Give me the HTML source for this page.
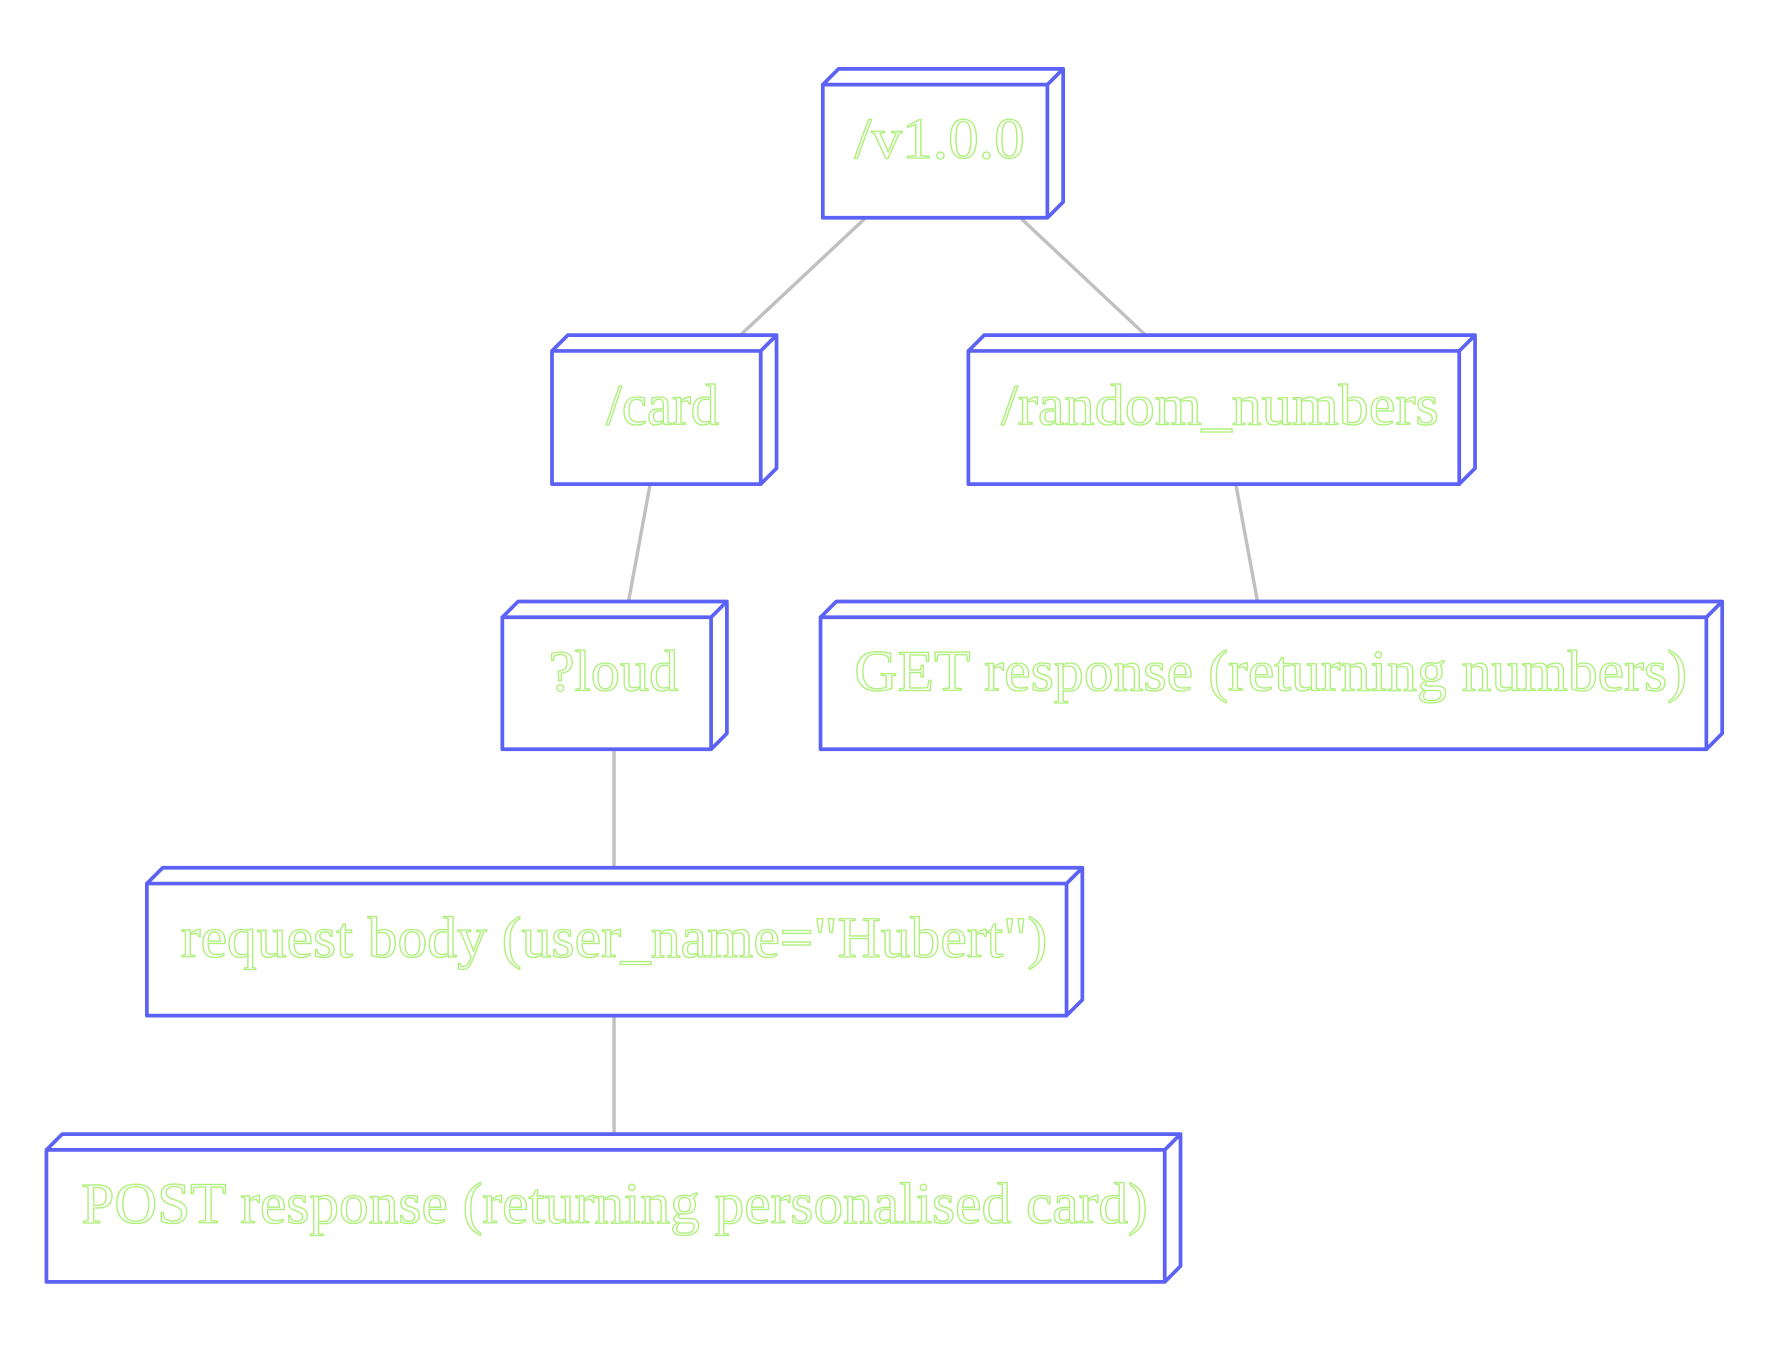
<!DOCTYPE html>
<html><head><style>html,body{margin:0;padding:0;background:#fff;}svg{display:block}</style></head>
<body>
<svg width="1772" height="1353" viewBox="0 0 1570 1199" xmlns="http://www.w3.org/2000/svg">
<g stroke="#c0c0c0" stroke-width="3">
<line x1="767" y1="193" x2="657" y2="296"/>
<line x1="904" y1="193" x2="1014" y2="296"/>
<line x1="576" y1="429" x2="557" y2="532"/>
<line x1="1095" y1="429" x2="1114" y2="532"/>
<line x1="544" y1="664" x2="544" y2="768"/>
<line x1="544" y1="900" x2="544" y2="1004"/>
</g>
<g fill="none" stroke="#5b62f5" stroke-width="3.3" stroke-linejoin="round">
<path d="M729 75h199v118h-199z M729 75l14-14h199v118l-14 14 M928 75l14-14"/>
<path d="M489 311h185v118h-185z M489 311l14-14h185v118l-14 14 M674 311l14-14"/>
<path d="M858 311h435v118h-435z M858 311l14-14h435v118l-14 14 M1293 311l14-14"/>
<path d="M445 547h185v117h-185z M445 547l14-14h185v117l-14 14 M630 547l14-14"/>
<path d="M727 547h785v117h-785z M727 547l14-14h785v117l-14 14 M1512 547l14-14"/>
<path d="M130 783h815v117h-815z M130 783l14-14h815v117l-14 14 M945 783l14-14"/>
<path d="M41 1019h991v117h-991z M41 1019l14-14h991v117l-14 14 M1032 1019l14-14"/>
</g>
<g font-family="'Liberation Serif', serif" font-size="52" fill="#fff" stroke="#aef07a" stroke-width="1.2" lengthAdjust="spacingAndGlyphs">
<text x="757" y="140" textLength="151" lengthAdjust="spacingAndGlyphs">/v1.0.0</text>
<text x="537" y="376" textLength="100" lengthAdjust="spacingAndGlyphs">/card</text>
<text x="887" y="376" textLength="388" lengthAdjust="spacingAndGlyphs">/random_numbers</text>
<text x="486" y="612" textLength="115" lengthAdjust="spacingAndGlyphs">?loud</text>
<text x="757" y="612" textLength="738" lengthAdjust="spacingAndGlyphs">GET response (returning numbers)</text>
<text x="160" y="848" textLength="768" lengthAdjust="spacingAndGlyphs">request body (user_name="Hubert")</text>
<text x="72" y="1084" textLength="945" lengthAdjust="spacingAndGlyphs">POST response (returning personalised card)</text>
</g>
</svg>
</body></html>
